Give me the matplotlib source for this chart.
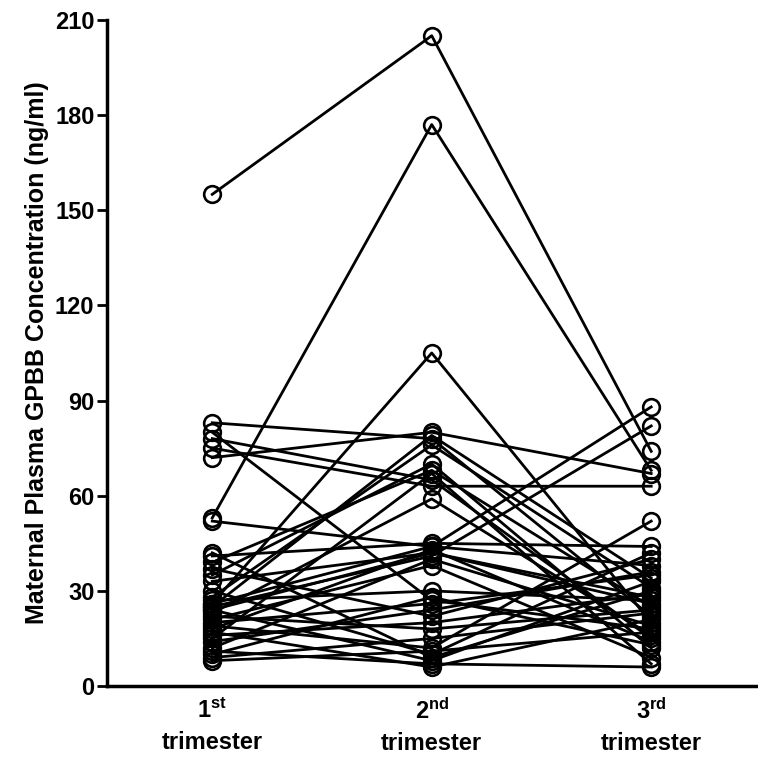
import matplotlib.pyplot as plt
import numpy as np

plt.rcParams['font.family'] = ['Liberation Sans', 'DejaVu Sans']
plt.rcParams['mathtext.fontset'] = 'custom'
plt.rcParams['mathtext.bf'] = 'Liberation Sans:bold'
plt.rcParams['mathtext.rm'] = 'Liberation Sans:bold'

# one value per subject, per trimester (ng/ml)
first = [155, 53, 26, 83, 80, 78, 75, 72, 52, 42, 41, 39, 37, 35, 33, 30, 28, 27, 26,
         25, 24, 23, 22, 21, 20, 19, 18, 17, 16, 15, 14, 12, 11, 10, 9, 8, 25, 24]
second = [205, 177, 105, 78, 27, 65, 63, 80, 44, 9, 45, 68, 22, 70, 42, 10, 76, 30, 44,
          41, 8, 59, 18, 38, 26, 12, 43, 6, 20, 67, 24, 40, 7, 28, 15, 11, 79, 42]
third = [74, 68, 20, 22, 18, 15, 63, 67, 38, 30, 44, 25, 40, 12, 28, 42, 31, 27, 88,
         82, 33, 16, 24, 9, 35, 52, 14, 21, 29, 7, 36, 19, 6, 13, 23, 17, 34, 26]

groups = [1, 2, 3]
group_labels = [r'$\mathbf{1^{st}}$' + '\ntrimester',
                r'$\mathbf{2^{nd}}$' + '\ntrimester',
                r'$\mathbf{3^{rd}}$' + '\ntrimester']

fig = plt.figure(figsize=(7.58, 7.64), dpi=100)
ax = fig.add_axes([0.141, 0.102, 0.86, 0.872])

for a, b, c in zip(first, second, third):
    ax.plot(groups, [a, b, c], color='black', linewidth=2, marker='o',
            markersize=12, markerfacecolor='none', markeredgewidth=1.9)

ax.set_xlim(0.52, 3.49)
ax.set_ylim(0, 210)
ax.set_yticks(np.arange(0, 211, 30))
ax.set_xticks(groups)
ax.set_xticklabels(group_labels, fontsize=17, fontweight='bold', linespacing=1.45)
ax.tick_params(axis='x', length=0, pad=9)
ax.tick_params(axis='y', length=7, width=2, labelsize=17, pad=2)
for lab in ax.get_yticklabels():
    lab.set_fontweight('bold')

ax.spines['top'].set_visible(False)
ax.spines['right'].set_visible(False)
ax.spines['left'].set_linewidth(2.5)
ax.spines['bottom'].set_linewidth(2.5)

ax.set_ylabel('Maternal Plasma GPBB Concentration (ng/ml)', fontsize=18,
              fontweight='bold', labelpad=4)

fig.savefig('out.png', dpi=100)
